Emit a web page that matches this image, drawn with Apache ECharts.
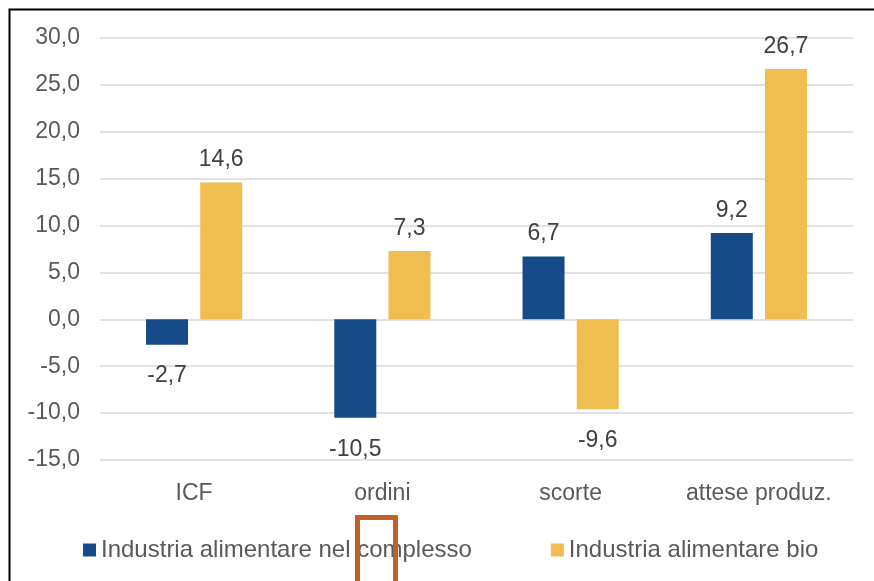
<!DOCTYPE html>
<html>
<head>
<meta charset="utf-8">
<script src="https://cdn.jsdelivr.net/npm/echarts@6/dist/echarts.min.js"></script>
<style>
html, body { margin: 0; padding: 0; background: #fff; }
#chart { width: 874px; height: 581px; }
</style>
</head>
<body>
<div id="chart"></div>
<script>
var categories = ["ICF", "ordini", "scorte", "attese produz."];
var seriesNames = ["Industria alimentare nel complesso", "Industria alimentare bio"];
var complesso = [-2.7, -10.5, 6.7, 9.2];
var bio = [14.6, 7.3, -9.6, 26.7];

function comma(v) {
    return Number(v).toFixed(1).replace(".", ",");
}

function withLabels(values) {
    return values.map(function (v) {
        return {
            value: v,
            label: { position: v < 0 ? "bottom" : "top", distance: v < 0 ? 20 : 11 }
        };
    });
}

var font = "Liberation Sans",
    chart = echarts.init(document.getElementById("chart")),
    labelStyle = {
        show: true,
        fontFamily: font,
        fontSize: 23,
        color: "#404040",
        formatter: function (p) { return comma(p.value); }
    },
    option = {
        backgroundColor: "#fff",
        animation: false,
        textStyle: { fontFamily: font },
        legend: {
            data: seriesNames,
            left: 78,
            top: 533,
            itemWidth: 13,
            itemHeight: 13,
            itemGap: 79,
            icon: "rect",
            textStyle: { fontSize: 24, color: "#595959", fontFamily: font, padding: [0, 0, 0, 0] }
        },
        grid: { left: 100, right: 21, top: 38, bottom: 121 },
        xAxis: {
            type: "category",
            data: categories,
            axisLine: { show: false },
            axisTick: { show: false },
            axisLabel: { interval: 0, fontSize: 23, color: "#595959", margin: 22 }
        },
        yAxis: {
            type: "value",
            min: -15,
            max: 30,
            interval: 5,
            axisLine: { show: false },
            axisTick: { show: false },
            axisLabel: { fontSize: 23, color: "#595959", margin: 20, formatter: comma },
            splitLine: { lineStyle: { color: "#d9d9d9", width: 1.5 } }
        },
        series: [{
            name: seriesNames[0],
            type: "bar",
            data: withLabels(complesso),
            barWidth: 42,
            barGap: "29%",
            itemStyle: { color: "#174A88" },
            label: labelStyle
        }, {
            name: seriesNames[1],
            type: "bar",
            data: withLabels(bio),
            barWidth: 42,
            itemStyle: { color: "#F0BD50" },
            label: labelStyle
        }],
        graphic: [{
            type: "rect",
            shape: { x: 9.5, y: 9.5, width: 900, height: 600 },
            style: { fill: null, stroke: "#000", lineWidth: 2 },
            silent: true
        }, {
            type: "rect",
            shape: { x: 357.5, y: 517.5, width: 38, height: 100 },
            style: { fill: null, stroke: "#C0612B", lineWidth: 5 },
            silent: true,
            z: 100
        }]
    };
chart.setOption(option);
window.addEventListener("resize", chart.resize);
</script>
</body>
</html>
